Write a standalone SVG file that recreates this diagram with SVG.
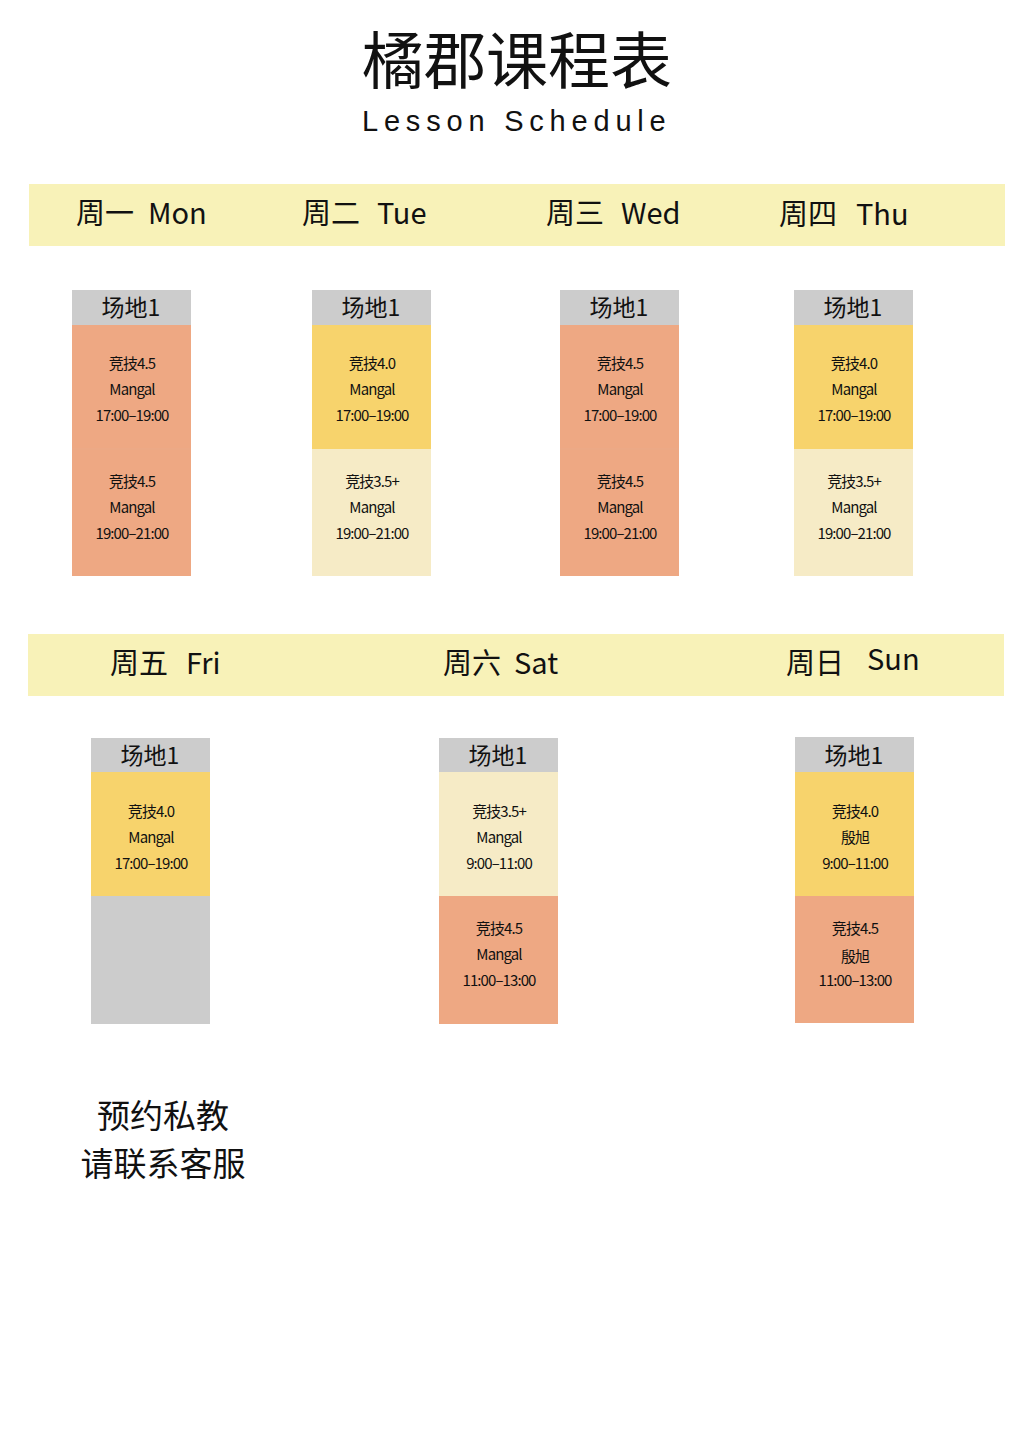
<svg xmlns="http://www.w3.org/2000/svg" width="1024" height="1447" viewBox="0 0 1024 1447">
<style>
.t{font-family:"Noto Sans CJK SC","Noto Sans",sans-serif;fill:#111;text-anchor:middle}
.l{font-family:"Noto Sans CJK SC","Noto Sans",sans-serif;fill:#111;text-anchor:start}
.bar{fill:#F8F2B8}
.hd{fill:#CCCCCC}
.s{fill:#EEA883}
.y{fill:#F7D36C}
.c{fill:#F6EBC6}
.g{fill:#CCCCCC}
.day{font-size:29px}
.ven{font-size:23px}
.cell{font-size:15px;letter-spacing:-0.9px}
</style>
<rect width="1024" height="1447" fill="#FFFFFF"/>
<g id="title">
<text class="t" x="517" y="84" font-size="62">橘郡课程表</text>
<text x="362" y="131" font-size="29" letter-spacing="5.8" font-family="Liberation Sans, Arial, sans-serif" fill="#111">Lesson Schedule</text>
</g>
<g id="bar1">
<rect class="bar" x="29" y="184" width="976" height="62"/>
<text class="l day" x="76" y="224">周一</text><text class="l day" x="148" y="224">Mon</text>
<text class="l day" x="302" y="224">周二</text><text class="l day" x="377" y="224">Tue</text>
<text class="l day" x="546" y="224">周三</text><text class="l day" x="621" y="224">Wed</text>
<text class="l day" x="779" y="225">周四</text><text class="l day" x="856" y="225">Thu</text>
</g>
<g id="bar2">
<rect class="bar" x="28" y="634" width="976" height="62"/>
<text class="l day" x="110" y="674">周五</text><text class="l day" x="186" y="674">Fri</text>
<text class="l day" x="443" y="674">周六</text><text class="l day" x="514" y="674">Sat</text>
<text class="l day" x="786" y="674">周日</text><text class="l day" x="867" y="670">Sun</text>
</g>
<g id="mon">
<rect class="hd" x="72" y="290" width="119" height="35"/>
<text class="t ven" x="131" y="316">场地1</text>
<rect class="s" x="72" y="325" width="119" height="124"/>
<rect class="s" x="72" y="449" width="119" height="127"/>
<line x1="72" y1="449" x2="191" y2="449" stroke="#EAAA88" stroke-width="1"/>
<text class="t cell" x="132" y="369">竞技4.5</text>
<text class="t cell" x="132" y="395">Mangal</text>
<text class="t cell" x="132" y="421">17:00–19:00</text>
<text class="t cell" x="132" y="487">竞技4.5</text>
<text class="t cell" x="132" y="513">Mangal</text>
<text class="t cell" x="132" y="539">19:00–21:00</text>
</g>
<g id="tue">
<rect class="hd" x="312" y="290" width="119" height="35"/>
<text class="t ven" x="371" y="316">场地1</text>
<rect class="y" x="312" y="325" width="119" height="124"/>
<rect class="c" x="312" y="449" width="119" height="127"/>
<text class="t cell" x="372" y="369">竞技4.0</text>
<text class="t cell" x="372" y="395">Mangal</text>
<text class="t cell" x="372" y="421">17:00–19:00</text>
<text class="t cell" x="372" y="487">竞技3.5+</text>
<text class="t cell" x="372" y="513">Mangal</text>
<text class="t cell" x="372" y="539">19:00–21:00</text>
</g>
<g id="wed">
<rect class="hd" x="560" y="290" width="119" height="35"/>
<text class="t ven" x="619" y="316">场地1</text>
<rect class="s" x="560" y="325" width="119" height="124"/>
<rect class="s" x="560" y="449" width="119" height="127"/>
<line x1="560" y1="449" x2="679" y2="449" stroke="#EAAA88" stroke-width="1"/>
<text class="t cell" x="620" y="369">竞技4.5</text>
<text class="t cell" x="620" y="395">Mangal</text>
<text class="t cell" x="620" y="421">17:00–19:00</text>
<text class="t cell" x="620" y="487">竞技4.5</text>
<text class="t cell" x="620" y="513">Mangal</text>
<text class="t cell" x="620" y="539">19:00–21:00</text>
</g>
<g id="thu">
<rect class="hd" x="794" y="290" width="119" height="35"/>
<text class="t ven" x="853" y="316">场地1</text>
<rect class="y" x="794" y="325" width="119" height="124"/>
<rect class="c" x="794" y="449" width="119" height="127"/>
<text class="t cell" x="854" y="369">竞技4.0</text>
<text class="t cell" x="854" y="395">Mangal</text>
<text class="t cell" x="854" y="421">17:00–19:00</text>
<text class="t cell" x="854" y="487">竞技3.5+</text>
<text class="t cell" x="854" y="513">Mangal</text>
<text class="t cell" x="854" y="539">19:00–21:00</text>
</g>
<g id="fri">
<rect class="hd" x="91" y="738" width="119" height="34"/>
<text class="t ven" x="150" y="764">场地1</text>
<rect class="y" x="91" y="772" width="119" height="124"/>
<rect class="g" x="91" y="896" width="119" height="128"/>
<text class="t cell" x="151" y="817">竞技4.0</text>
<text class="t cell" x="151" y="843">Mangal</text>
<text class="t cell" x="151" y="869">17:00–19:00</text>
</g>
<g id="sat">
<rect class="hd" x="439" y="738" width="119" height="34"/>
<text class="t ven" x="498" y="764">场地1</text>
<rect class="c" x="439" y="772" width="119" height="124"/>
<rect class="s" x="439" y="896" width="119" height="128"/>
<text class="t cell" x="499" y="817">竞技3.5+</text>
<text class="t cell" x="499" y="843">Mangal</text>
<text class="t cell" x="499" y="869">9:00–11:00</text>
<text class="t cell" x="499" y="934">竞技4.5</text>
<text class="t cell" x="499" y="960">Mangal</text>
<text class="t cell" x="499" y="986">11:00–13:00</text>
</g>
<g id="sun">
<rect class="hd" x="795" y="737" width="119" height="35"/>
<text class="t ven" x="854" y="764">场地1</text>
<rect class="y" x="795" y="772" width="119" height="124"/>
<rect class="s" x="795" y="896" width="119" height="127"/>
<text class="t cell" x="855" y="817">竞技4.0</text>
<text class="t cell" x="855" y="843">殷旭</text>
<text class="t cell" x="855" y="869">9:00–11:00</text>
<text class="t cell" x="855" y="934">竞技4.5</text>
<text class="t cell" x="855" y="962">殷旭</text>
<text class="t cell" x="855" y="986">11:00–13:00</text>
</g>
<g id="note">
<text class="t" x="163" y="1128" font-size="33">预约私教</text>
<text class="t" x="163" y="1176" font-size="33">请联系客服</text>
</g>
<g id="connectors"/>
</svg>
